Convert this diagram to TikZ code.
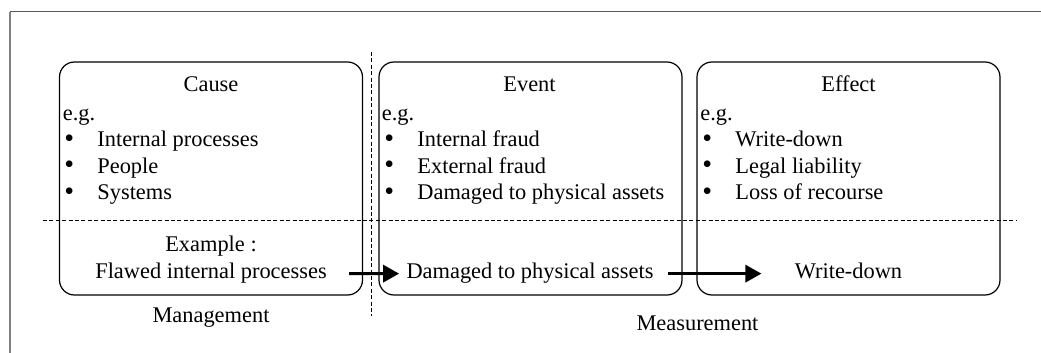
\documentclass[tikz,border=0pt]{standalone}
\usepackage{fontspec}
\setmainfont{Liberation Serif}[Ligatures=TeX]
\newfontfamily\tnr{Liberation Serif}
\usetikzlibrary{arrows.meta,positioning}
\tikzset{
	stage/.style={draw,rounded corners=7.5pt,line width=0.6pt,
		minimum width=151.5pt,minimum height=116.5pt,inner sep=0pt},
	txt/.style={inner sep=0pt,font=\tnr\fontsize{11.2}{13}\selectfont},
	flow/.style={-{Triangle[length=8pt,width=8.5pt]},line width=1.6pt},
	divide/.style={dash pattern=on 2pt off 1.2pt,line width=0.4pt},
}
\newcommand{\itm}[1]{\makebox[16.5pt][l]{\raisebox{-0.3pt}{\scalebox{1.25}{\textbullet}}}#1}
\begin{document}
\begin{tikzpicture}[x=0.5pt,y=-0.5pt]
	\useasboundingbox (0,0) rectangle (1041,353);
	% frame
	\draw[gray!70!black,line width=0.5pt] (10,12) -- (1041,12);
	\draw[gray,line width=1pt] (10,12) -- (10,353);
	
	% the three stages
	\node[stage] (cause) at (211,178.5) {};
	\node[stage] (event) at (530.5,178.5) {};
	\node[stage] (effect) at (848.5,178.5) {};
	
	\begin{scope}[every node/.style={txt}]
	\node[anchor=base] (causeT) at (211,92) {Cause};
	\node[anchor=base west] (causeEg) at (62.5,120.5) {e.g.};
	\node[anchor=base west] (cause1) at (64,147) {\itm{Internal processes}};
	\node[anchor=base west] (cause2) at (64,173.3) {\itm{People}};
	\node[anchor=base west] (cause3) at (64,199.6) {\itm{Systems}};
	
	\node[anchor=base] (eventT) at (529.5,92) {Event};
	\node[anchor=base west] (eventEg) at (381.5,120.5) {e.g.};
	\node[anchor=base west] (event1) at (384,147) {\itm{Internal fraud}};
	\node[anchor=base west] (event2) at (384,173.3) {\itm{External fraud}};
	\node[anchor=base west] (event3) at (384,199.6) {\itm{Damaged to physical assets}};
	
	\node[anchor=base] (effectT) at (848.5,92) {Effect};
	\node[anchor=base west] (effectEg) at (700,120.5) {e.g.};
	\node[anchor=base west] (effect1) at (702,147) {\itm{Write-down}};
	\node[anchor=base west] (effect2) at (702,173.3) {\itm{Legal liability}};
	\node[anchor=base west] (effect3) at (702,199.6) {\itm{Loss of recourse}};
	
	\node[anchor=base] (exLabel) at (211,251.7) {Example :};
	\node[anchor=base] (flawed) at (211,279) {Flawed internal processes};
	\node[anchor=base] (damaged) at (530,279) {Damaged to physical assets};
	\node[anchor=base] (writedown) at (848.5,279) {Write-down};
	
	\node[anchor=base] (mgmt) at (211,322.7) {Management};
	\node[anchor=base] (meas) at (697.5,331) {Measurement};
	\end{scope}
	
	% dividers
	\coordinate (hl) at (43,220.7);
	\coordinate (hr) at (1017,220.7);
	\coordinate (vt) at (371,52);
	\coordinate (vb) at (371,316);
	\draw[divide] (hl) -- (hr);
	\draw[divide] (vt) -- (vb);
	
	\draw[flow,shorten <=11pt,shorten >=3.5pt] (flawed.east) -- (damaged.west);
	\draw[flow,shorten <=7pt,shorten >=16.5pt] (damaged.east) -- (damaged.east -| writedown.west);
\end{tikzpicture}
\end{document}
